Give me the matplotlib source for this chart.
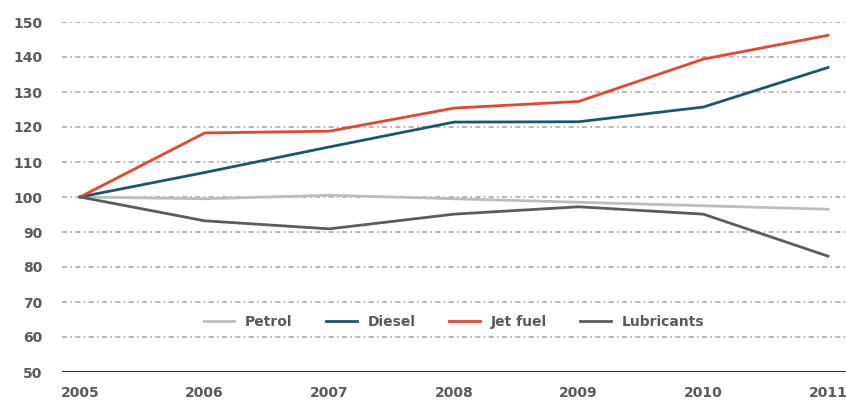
import matplotlib
matplotlib.use("Agg")
import matplotlib.pyplot as plt

years = [2005, 2006, 2007, 2008, 2009, 2010, 2011]
petrol = [100, 99.5, 100.5, 99.5, 98.5, 97.5, 96.5]
diesel = [100, 107, 114.3, 121.4, 121.5, 125.7, 137]
jet_fuel = [100, 118.3, 118.8, 125.4, 127.3, 139.4, 146.2]
lubricants = [100, 93.2, 90.9, 95.1, 97.2, 95.1, 83.1]
yticks = list(range(50, 151, 10))

series = [
    ("Petrol", petrol, "#bdbdbd"),
    ("Diesel", diesel, "#1d5670"),
    ("Jet fuel", jet_fuel, "#e8452c"),
    ("Lubricants", lubricants, "#5c5c5c"),
]

W, H = 846, 403
fig = plt.figure(figsize=(W / 100, H / 100), dpi=100)
left, right, top, bottom = 62, 846, 22, 372
ax = fig.add_axes([left / W, (H - bottom) / H, (right - left) / W, (bottom - top) / H])

for name, vals, col in series:
    ax.plot(years, vals, color=col, lw=2.0, label=name, solid_joinstyle="round")

ax.set_ylim(50, 150)
ppy = (828 - 80) / 6
ax.set_xlim(2005 - 18 / ppy, 2011 + 18 / ppy)
ax.set_yticks(yticks)
ax.set_xticks(years)
ax.set_xticklabels([str(y) for y in years])

for y in yticks[1:]:
    ax.axhline(y, color="#ababab", lw=1.2, linestyle=(0, (3, 2, 1, 2)), zorder=0)
ax.axhline(50, color="#222222", lw=2.0, zorder=3)

for s in ax.spines.values():
    s.set_visible(False)
ax.tick_params(axis="both", length=0, labelsize=10, labelcolor="#5a5a5a")
ax.tick_params(axis="y", pad=14)
ax.tick_params(axis="x", pad=10)
for lab in ax.get_xticklabels() + ax.get_yticklabels():
    lab.set_fontweight("bold")

leg = ax.legend(loc="center", bbox_to_anchor=(0.5, 0.143), ncol=4, frameon=False,
                fontsize=10, handlelength=2.2, columnspacing=2.4, handletextpad=0.8)
for t in leg.get_texts():
    t.set_color("#5a5a5a")
    t.set_fontweight("bold")

fig.savefig("out.png", dpi=100)
